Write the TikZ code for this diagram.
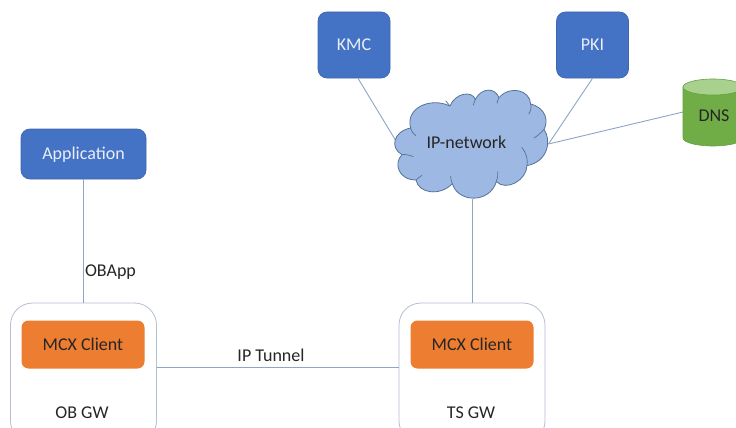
\documentclass[tikz,border=0pt]{standalone}
\usepackage{fontspec}
\setmainfont{Carlito}
\definecolor{bluebox}{HTML}{4472C4}
\definecolor{blueedge}{HTML}{3F66AE}
\definecolor{orangebox}{HTML}{ED7D31}
\definecolor{wire}{HTML}{8EA5C6}
\definecolor{gwedge}{HTML}{B4BFD0}
\definecolor{cloudfill}{HTML}{9DB8E2}
\definecolor{cloudedge}{HTML}{557399}
\definecolor{dnsbody}{HTML}{70AD47}
\definecolor{dnstop}{HTML}{A9D18E}
\definecolor{dnsedge}{HTML}{68A040}
\definecolor{inktext}{HTML}{262626}
\tikzset{
  x=1pt,y=-1pt,
  lbl/.style={font=\fontsize{18}{20}\selectfont,text=inktext,inner sep=0pt},
  bluebx/.style={draw=blueedge,fill=bluebox,rounded corners=9pt,text=white!88!bluebox,font=\fontsize{18}{20}\selectfont,inner sep=0pt,line width=.7pt},
  orangebx/.style={fill=orangebox,rounded corners=7pt,text=inktext,font=\fontsize{18}{20}\selectfont,inner sep=0pt,minimum width=123pt,minimum height=48pt},
  gwbx/.style={draw=gwedge,fill=white,rounded corners=22pt,line width=.8pt,inner sep=0pt,minimum width=146pt,minimum height=140pt},
  wireline/.style={draw=wire,line width=.9pt},
  cloudshape/.style={draw=cloudedge,fill=cloudfill,line width=.8pt},
  cloudmark/.style={draw=cloudedge,line width=.7pt},
}
\begin{document}
\begin{tikzpicture}
\useasboundingbox (0,0) rectangle (736,428);
\clip (0,0) rectangle (736,428);
\fill[white] (0,0) rectangle (736,428);
% gateways
\node[gwbx] (obgw) at (83.5,373) {};
\node[gwbx] (tsgw) at (472,373) {};
\node[orangebx] (mcxa) at (83,344.5) {MCX Client};
\node[orangebx] (mcxb) at (472,344.5) {MCX Client};
\node[lbl] (oblbl) at (82,413) {OB GW};
\node[lbl] (tslbl) at (471,413) {TS GW};
% upper boxes
\node[bluebx,minimum width=125pt,minimum height=50pt,text depth=3pt,text height=14pt] (app) at (83.5,154) {Application};
\node[bluebx,minimum width=72pt,minimum height=66pt] (kmc) at (354,45) {KMC};
\node[bluebx,minimum width=72pt,minimum height=66pt] (pki) at (592.5,45) {PKI};
% anchors on the cloud rim
\coordinate (cloudw) at (396,141);
\coordinate (cloude) at (548.5,144);
\coordinate (clouds) at (472,199);
% connectors
\draw[wireline] (kmc.south) ++(4,0) coordinate (kmcfoot) (kmcfoot) -- (cloudw);
\draw[wireline] (pki.south) -- (cloude);
\coordinate (dnsport) at (683,112);
\draw[wireline] (dnsport) -- (cloude);
\draw[wireline] (app) -- (obgw);
\draw[wireline] (clouds) -- (tsgw);
\draw[wireline] (obgw.east |- 0,367) coordinate (tunl) -- (tsgw.west |- 0,367) coordinate (tunr);
\node[lbl] (oba) at (110.5,272) {OBApp};
\node[lbl] (tun) at (271,355) {IP Tunnel};
% cloud
\begin{scope}[shift={(380,0)},x=0.3333pt,y=-0.3333pt]
\path[cloudshape]
  (66,464)
  .. controls (30,445) and (38,395) .. (92,384)
  .. controls (75,325) and (150,290) .. (210,318)
  .. controls (225,280) and (275,270) .. (286,298)
  .. controls (305,262) and (345,262) .. (357,293)
  .. controls (390,255) and (450,270) .. (452,312)
  .. controls (500,325) and (505,365) .. (492,388)
  .. controls (515,420) and (505,485) .. (441,497)
  .. controls (440,540) and (380,575) .. (349,545)
  .. controls (330,610) and (235,610) .. (217,551)
  .. controls (180,590) and (115,580) .. (108,540)
  .. controls (55,540) and (40,490) .. (66,464)
  -- cycle;
\draw[cloudmark] (66,464) .. controls (76,462) and (90,466) .. (100,470);
\draw[cloudmark] (92,384) .. controls (95,395) and (100,402) .. (108,408);
\draw[cloudmark] (210,318) .. controls (205,312) and (200,306) .. (197,302);
\draw[cloudmark] (286,298) .. controls (283,305) and (281,311) .. (280,316);
\draw[cloudmark] (357,293) .. controls (354,299) and (352,304) .. (351,310);
\draw[cloudmark] (452,312) .. controls (455,322) and (452,335) .. (446,342);
\draw[cloudmark] (492,388) .. controls (482,400) and (472,408) .. (462,414);
\draw[cloudmark] (441,497) .. controls (444,480) and (440,460) .. (425,442);
\draw[cloudmark] (349,545) .. controls (353,535) and (354,525) .. (353,515);
\draw[cloudmark] (217,551) .. controls (213,542) and (212,535) .. (212,528);
\draw[cloudmark] (108,540) .. controls (112,536) and (120,530) .. (126,526);
\end{scope}
\node[lbl] (cloudlbl) at (466.5,142) {IP-network};
% DNS cylinder
\path[draw=dnsedge,fill=dnsbody,line width=.6pt] (683,87) -- (683,138) arc[start angle=180,end angle=360,x radius=30pt,y radius=8pt] -- (743,87) -- cycle;
\path[draw=dnsedge,fill=dnstop,line width=.6pt] (713,87) ellipse[x radius=30pt,y radius=8pt];
\node[lbl] (dns) at (714,116) {DNS};
\end{tikzpicture}
\end{document}
